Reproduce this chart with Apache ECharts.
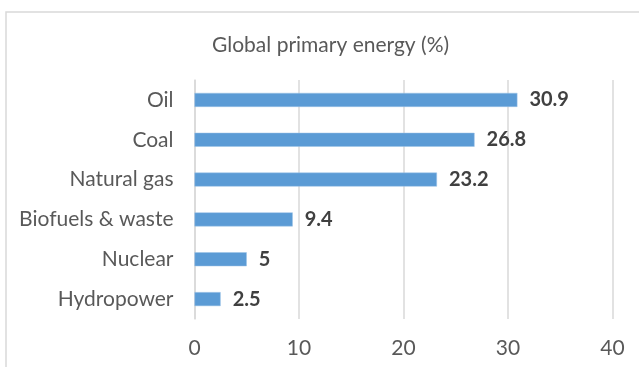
<!DOCTYPE html>
<html><head><meta charset="utf-8">
<script src="https://cdn.jsdelivr.net/npm/echarts@6/dist/echarts.min.js"></script>
<style>html,body{margin:0;padding:0;background:#fff}#c{width:639px;height:367px}</style>
</head><body><div id="c"></div>
<script>
const categories = ['Hydropower','Nuclear','Biofuels & waste','Natural gas','Coal','Oil'];
const values = [2.5, 5, 9.4, 23.2, 26.8, 30.9];
const xTicks = [0, 10, 20, 30, 40];
const titleText = 'Global primary energy (%)';
const FONT = 'Lato';
const chart = echarts.init(document.getElementById('c'), null, {renderer:'canvas'});
chart.setOption({
  animation: false,
  backgroundColor: '#fff',
  graphic: [{type:'rect', shape:{x:6, y:12, width:700, height:400}, style:{fill:'none', stroke:'#d9d9d9', lineWidth:1.5}, silent:true}],
  title: {text: titleText, left: 207, top: 30, textStyle:{fontFamily:FONT, fontSize:21, fontWeight:'normal', color:'#595959'}},
  grid: {left:194.5, right:26.5, top:80, bottom:48, containLabel:false},
  xAxis: {type:'value', min:xTicks[0], max:xTicks[xTicks.length-1], interval:10,
    axisLine:{show:false}, axisTick:{show:false},
    splitLine:{lineStyle:{color:'#d9d9d9', width:1.5}},
    axisLabel:{fontFamily:FONT, fontSize:21, color:'#595959', margin:19}},
  yAxis: {type:'category', data:categories,
    axisLine:{show:true, lineStyle:{color:'#d9d9d9', width:1.5}}, axisTick:{show:false},
    axisLabel:{fontFamily:FONT, fontSize:21, color:'#595959', margin:21}},
  series: [{type:'bar', data:values, barWidth:14,
    itemStyle:{color:'#5b9bd5', borderColor:'#9dc3e6', borderWidth:0.5},
    label:{show:true, position:'right', distance:12, fontFamily:FONT, fontSize:20, fontWeight:'bold', color:'#404040'}}]
});
</script></body></html>
